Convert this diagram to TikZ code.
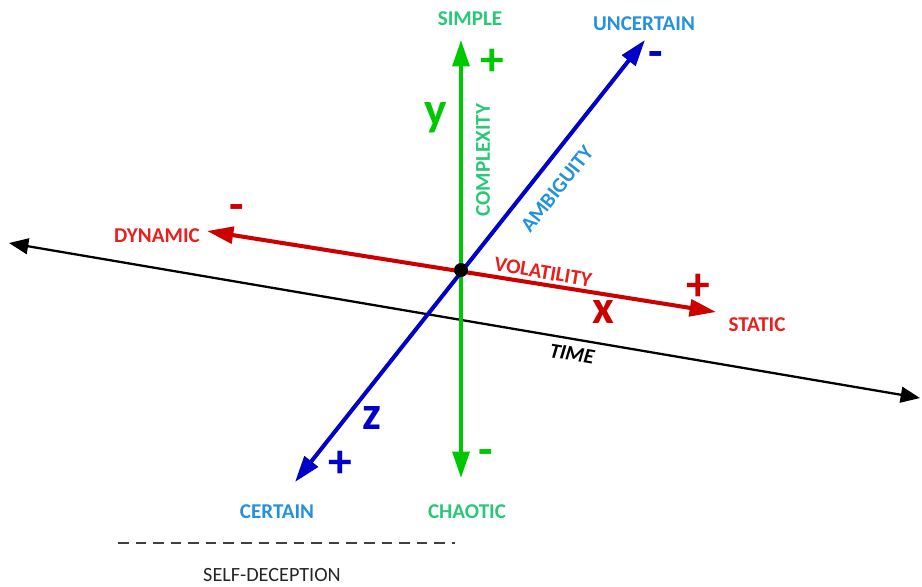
\documentclass[tikz,border=0pt]{standalone}
\usepackage{fontspec}
\setmainfont{Carlito}
\usetikzlibrary{arrows.meta}

\definecolor{axgreen}{RGB}{0,200,0}
\definecolor{axblue}{RGB}{0,0,200}
\definecolor{axred}{RGB}{205,0,0}
\definecolor{txtgreen}{RGB}{40,200,120}
\definecolor{txtblue}{RGB}{35,145,220}
\definecolor{txtred}{RGB}{235,30,30}

\begin{document}
\begin{tikzpicture}[x=0.02cm,y=-0.02cm,
		lbl/.style={font=\fontsize{12}{12}\selectfont\bfseries},
		sgn/.style={font=\fontsize{27}{27}\selectfont\bfseries},
		axis/.style={line width=2.3pt},
		tip/.tip={Triangle[length=15pt,width=9.5pt]},
		timeaxis/.style={line width=1.3pt,{Triangle[length=11pt,width=9pt]}-{Triangle[length=11pt,width=9pt]}}]
		\useasboundingbox (0,0) rectangle (922,586);
		
		% Axis end points
		\coordinate (past) at (9,243);
		\coordinate (future) at (920,398);
		\coordinate (top) at (461,40);
		\coordinate (bottom) at (461,478);
		\coordinate (dynend) at (207,231);
		\coordinate (statend) at (716,312);
		\coordinate (uncend) at (645,40);
		\coordinate (certend) at (295,482);
		\coordinate (dashL) at (118,543);
		\coordinate (dashR) at (455,543);
		
		% Time axis
		\draw[timeaxis] (past) -- (future);
		\node[font=\fontsize{12}{12}\selectfont\bfseries\itshape, rotate=-9.6] (time) at (572,354) {TIME};
		
		% y axis: complexity
		\draw[axis, axgreen, tip-tip] (bottom) -- (top);
		\node[lbl, text=txtgreen] (simple) at (470,19) {SIMPLE};
		\node[lbl, text=txtgreen] (chaotic) at (467,512) {CHAOTIC};
		\node[lbl, text=txtgreen, rotate=90] (complexity) at (483,160) {COMPLEXITY};
		\node[sgn, text=axgreen] (yplus) at (492,62) {+};
		\node[sgn, text=axgreen] (yminus) at (486,457) {-};
		\node[sgn, text=axgreen] (ylab) at (436,118) {y};
		
		% x axis: volatility
		\draw[axis, axred, tip-tip] (dynend) -- (statend);
		\node[lbl, text=txtred] (dynamic) at (157,236) {DYNAMIC};
		\node[lbl, text=txtred] (static) at (757,325) {STATIC};
		\node[lbl, text=txtred, rotate=-9.5] (volatility) at (543,272) {VOLATILITY};
		\node[sgn, text=axred] (xminus) at (237,212) {-};
		\node[sgn, text=axred] (xplus) at (698,287) {+};
		\node[sgn, text=axred] (xlab) at (603,312) {x};
		
		% z axis: ambiguity
		\draw[axis, axblue, tip-tip] (certend) -- (uncend);
		\node[lbl, text=txtblue] (uncertain) at (644,24) {UNCERTAIN};
		\node[lbl, text=txtblue] (certain) at (277,512) {CERTAIN};
		\node[lbl, text=txtblue, rotate=51.6] (ambiguity) at (557,189) {AMBIGUITY};
		\node[sgn, text=axblue] (zminus) at (656,60) {-};
		\node[sgn, text=axblue] (zplus) at (340,464) {+};
		\node[sgn, text=axblue] (zlab) at (372,418) {z};
		
		% Origin
		\node[circle, fill=black, inner sep=0pt, minimum size=14pt*0.569] (origin) at (461,270) {};
		
		% Self-deception
		\draw[line width=1.4pt, black!75, dash pattern=on 6pt off 4pt] (dashL) -- (dashR);
		\node[font=\fontsize{11.5}{12}\selectfont, text=black!85] (selfdec) at (272,575) {SELF-DECEPTION};
		
	\end{tikzpicture}
\end{document}
